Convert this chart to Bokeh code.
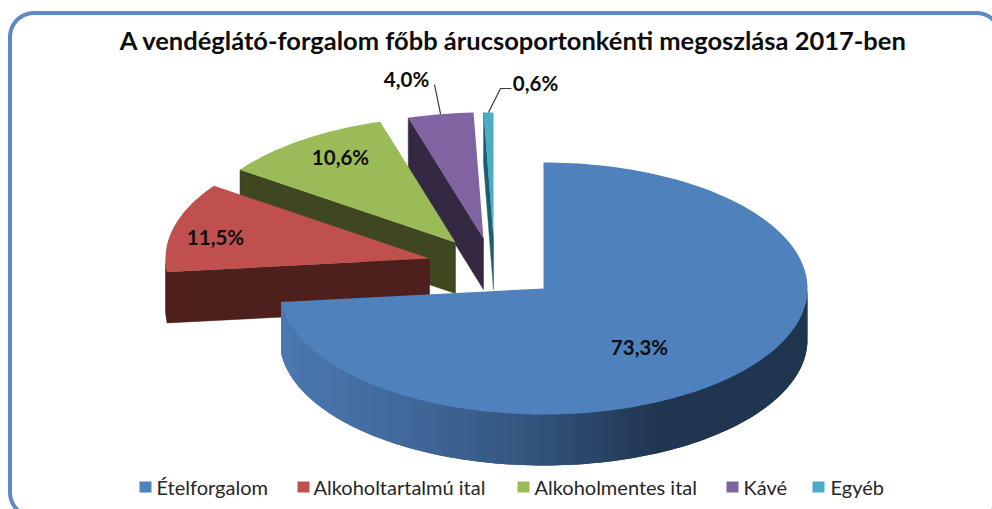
import math
from bokeh.plotting import figure
from bokeh.models import Range1d
from bokeh.core.properties import value
from bokeh.embed import file_html
from bokeh.resources import INLINE

# --- data ---
categories = ["Ételforgalom", "Alkoholtartalmú ital", "Alkoholmentes ital", "Kávé", "Egyéb"]
shares = [73.3, 11.5, 10.6, 4.0, 0.6]
labels = ["73,3%", "11,5%", "10,6%", "4,0%", "0,6%"]
title = "A vendéglátó-forgalom főbb árucsoportonkénti megoszlása 2017-ben"

# --- style ---
top_colors = ["#4f81bd", "#c0504d", "#9bbb59", "#8064a2", "#4bacc6"]
side_colors = ["#2a4a70", "#4d1f1d", "#3f4721", "#352842", "#1c5f70"]
rim_stops = [(0.0, "#4a79b0"), (0.25, "#41689a"), (0.5, "#315279"), (0.72, "#203550"), (1.0, "#1f3550")]

# --- layout (page pixel coordinates) ---
W, H = 992, 509
RX, RY, DEPTH = 264, 126, 51
apex = [(543, 288), (429, 258), (455, 242), (483, 238), (493, 238)]
label_pos = [(639, 346), (215, 236), (340, 156), (406, 78), (535, 82)]
legend_sq = [139, 297, 517, 726, 812]
legend_tx = [156, 313, 534, 743, 830]
LEG_Y = 486.5


def pt(c, deg, d=0):
    a = math.radians(deg)
    return c[0] + RX * math.sin(a), c[1] - RY * math.cos(a) + d


def hex2rgb(h):
    return tuple(int(h[i:i + 2], 16) for i in (1, 3, 5))


def rim_color(f):
    for (f0, c0), (f1, c1) in zip(rim_stops, rim_stops[1:]):
        if f <= f1:
            t = (f - f0) / (f1 - f0)
            r0, r1 = hex2rgb(c0), hex2rgb(c1)
            return "#%02x%02x%02x" % tuple(round(a + (b - a) * t) for a, b in zip(r0, r1))
    return rim_stops[-1][1]


p = figure(width=W, height=H, x_range=Range1d(0, W), y_range=Range1d(H, 0),
           output_backend="svg", toolbar_location=None, min_border=0,
           x_axis_type=None, y_axis_type=None, outline_line_color=None, background_fill_color="white",
           border_fill_color="white")
p.grid.visible = False

# frame
x0, y0, x1, y1, r = 9.5, 12.5, 1000, 516, 24
fx, fy = [], []
for cx, cy, s in [(x0 + r, y0 + r, 180), (x1 - r, y0 + r, 270), (x1 - r, y1 - r, 0), (x0 + r, y1 - r, 90)]:
    for k in range(13):
        a = math.radians(s + k * 7.5)
        fx.append(cx + r * math.cos(a))
        fy.append(cy + r * math.sin(a))
p.patch(fx + fx[:1], fy + fy[:1], fill_color=None, line_color="#5b8ac4", line_width=4)

# cumulative angles (clockwise from 12 o'clock)
starts, ends = [], []
acc = 0.0
total = sum(shares)
for s in shares:
    starts.append(acc)
    acc += s / total * 360
    ends.append(acc)

# slices back to front
for i in [4, 3, 2, 1, 0]:
    c, a0, a1 = apex[i], starts[i], ends[i]
    if i > 0:
        # radial face at the start edge of the slice, facing the viewer
        e = pt(c, a0)
        p.patch([c[0], e[0], e[0], c[0]], [c[1], e[1], e[1] + DEPTH, c[1] + DEPTH],
                fill_color=side_colors[i], line_color=side_colors[i], line_width=0.5)
    # outer rim in the front half, painted as overlapping bands so no seams show
    lo, hi = max(a0, 90), min(a1, 270)
    if hi > lo:
        n = int((hi - lo) / 1.5) + 1
        xl = pt(c, 270)[0]
        for k in range(n):
            b0 = lo + (hi - lo) * k / n
            b1 = lo + (hi - lo) * (k + 1) / n
            b_end = min(hi, b1 + 1.5)
            A, B = pt(c, b0), pt(c, b_end)
            M = pt(c, b1)
            if i == 0:
                f = ((A[0] + M[0]) / 2 - xl) / (2 * RX)
                col = rim_color(f)
            else:
                col = side_colors[i]
            p.patch([A[0], M[0], B[0], B[0], M[0], A[0]],
                    [A[1] - 1, M[1] - 1, B[1] - 1, B[1] + DEPTH, M[1] + DEPTH, A[1] + DEPTH],
                    fill_color=col, line_color=None)
    # top surface
    steps = max(2, int((a1 - a0) / 1.5))
    arc = [pt(c, a0 + (a1 - a0) * k / steps) for k in range(steps + 1)]
    p.patch([c[0]] + [q[0] for q in arc], [c[1]] + [q[1] for q in arc],
            fill_color=top_colors[i], line_color=None)

# leader lines of the two small slices
a3 = pt(apex[3], (starts[3] + ends[3]) / 2)
lx3, ly3 = label_pos[3]
p.line([a3[0], lx3 + 28], [a3[1], ly3 + 6], line_color="#3a3a3a", line_width=1.2)
a4 = pt(apex[4], (starts[4] + ends[4]) / 2)
lx4, ly4 = label_pos[4]
p.line([a4[0], lx4 - 35, lx4 - 24], [a4[1], ly4 + 6, ly4 + 6], line_color="#3a3a3a", line_width=1.2)

# data labels
for (lx, ly), t in zip(label_pos, labels):
    p.text([lx], [ly], text=[t], text_font=value("Lato"), text_font_style="bold",
           text_font_size="20.5px", text_color="#0d0d0d", text_align="center", text_baseline="middle")

# title
p.text([513], [39.5], text=[title], text_font=value("Lato"), text_font_style="bold",
       text_font_size="25.5px", text_color="#0d0d0d", text_align="center", text_baseline="middle")

# legend
for sx, tx, cat, col in zip(legend_sq, legend_tx, categories, top_colors):
    p.quad(left=[sx], right=[sx + 12], top=[LEG_Y - 5.5], bottom=[LEG_Y + 5.5], fill_color=col, line_color=None)
    p.text([tx], [LEG_Y], text=[cat], text_font=value("Lato"), text_font_size="20px",
           text_color="#262626", text_align="left", text_baseline="middle")

open("out.html", "w").write(file_html(p, INLINE))
